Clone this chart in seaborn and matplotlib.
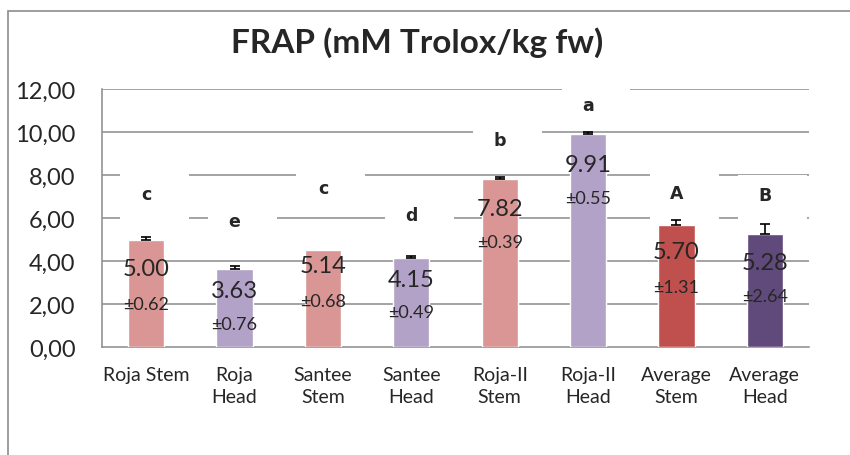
import numpy as np
import pandas as pd
import matplotlib
matplotlib.use("Agg")
import matplotlib.pyplot as plt
from matplotlib.ticker import FuncFormatter, FixedLocator
import seaborn as sns

# values
categories = ["Roja Stem", "Roja\nHead", "Santee\nStem", "Santee\nHead",
              "Roja-II\nStem", "Roja-II\nHead", "Average\nStem", "Average\nHead"]
bar_height = [5.00, 3.63, 4.51, 4.14, 7.81, 9.91, 5.67, 5.26]
err_up = [0.13, 0.13, 0.0, 0.11, 0.10, 0.10, 0.22, 0.44]
value_text = ["5.00", "3.63", "5.14", "4.15", "7.82", "9.91", "5.70", "5.28"]
sd_text = ["0.62", "0.76", "0.68", "0.49", "0.39", "0.55", "1.31", "2.64"]
letters = ["c", "e", "c", "d", "b", "a", "A", "B"]

# label placement (data units)
letter_y = [7.12, 5.86, 7.40, 6.14, 9.63, 11.26, 7.16, 7.07]
value_y = [3.63, 2.65, 3.77, 3.16, 6.42, 8.51, 4.42, 3.95]
sd_y = [2.00, 1.07, 2.14, 1.63, 4.88, 6.93, 2.79, 2.37]

colors = ["#D99694", "#B3A2C7", "#D99694", "#B3A2C7",
          "#D99694", "#B3A2C7", "#C0504D", "#604A7B"]

sns.set_style("white")
plt.rcParams["font.family"] = ["Lato", "DejaVu Sans"]

df = pd.DataFrame({"cat": categories, "val": bar_height})

fig = plt.figure(figsize=(8.5, 4.56), dpi=100)
ax = fig.add_axes([102 / 850, 1 - 348 / 456, (809 - 102) / 850, (348 - 90) / 456])

sns.barplot(data=df, x="cat", y="val", hue="cat", palette=colors, width=0.41,
            legend=False, ax=ax, saturation=1, zorder=3)

x = np.arange(len(categories))
err = np.array(err_up)
m = err > 0
ax.errorbar(x[m], np.array(bar_height)[m], yerr=[np.zeros(m.sum()), err[m]],
            fmt="none", ecolor="black", elinewidth=1.2, capsize=3.5, capthick=1.2, zorder=4)

grid_c = "#8a8a8a"
ax.set_ylim(0, 12)
ax.set_xlim(-0.5, len(categories) - 0.5)
ax.yaxis.set_major_locator(FixedLocator(np.arange(0, 13, 2)))
ax.yaxis.set_major_formatter(FuncFormatter(lambda v, p: f"{v:.2f}".replace(".", ",")))
for yv in np.arange(2, 13, 2):
    ax.axhline(yv, color=grid_c, lw=1.1, zorder=1)

for s in ["top", "right"]:
    ax.spines[s].set_visible(False)
for s in ["left", "bottom"]:
    ax.spines[s].set_color(grid_c)
    ax.spines[s].set_linewidth(1.1)

ax.set_xlabel("")
ax.set_ylabel("")
ax.tick_params(axis="y", direction="out", length=5, color=grid_c, width=1.1,
               labelsize=17, pad=14)
ax.tick_params(axis="x", which="major", length=0, labelsize=14, pad=14)
ax.set_xticks(np.arange(-0.5, len(categories)), minor=True)
ax.tick_params(axis="x", which="minor", direction="out", length=5, color=grid_c, width=1.1)
for lab in ax.get_xticklabels():
    lab.set_linespacing(1.3)

# significance letters with white boxes behind them
for i, (lt, ly) in enumerate(zip(letters, letter_y)):
    ax.add_patch(plt.Rectangle((i - 0.3, ly - 1.2), 0.78, 2.15,
                               facecolor="white", edgecolor="none", zorder=2))
    ax.text(i, ly, lt, ha="center", va="center", fontsize=12.5,
            fontweight="bold", family="DejaVu Sans", zorder=5)

for i in range(len(categories)):
    ax.text(i, value_y[i], value_text[i], ha="center", va="center",
            fontsize=17, zorder=5)
    ax.text(i, sd_y[i], "\u00b1" + sd_text[i], ha="center", va="center",
            fontsize=13, zorder=5)

fig.text(0.491, 0.906, "FRAP (mM Trolox/kg fw)", ha="center", va="center",
         fontsize=24, fontweight="bold")

fig.add_artist(plt.Rectangle((8 / 850, -0.1), 1.0, 1 - 12 / 456 + 0.1,
                             transform=fig.transFigure, fill=False,
                             edgecolor="#8c8c8c", lw=1.2))

fig.savefig("out.png", dpi=100)
